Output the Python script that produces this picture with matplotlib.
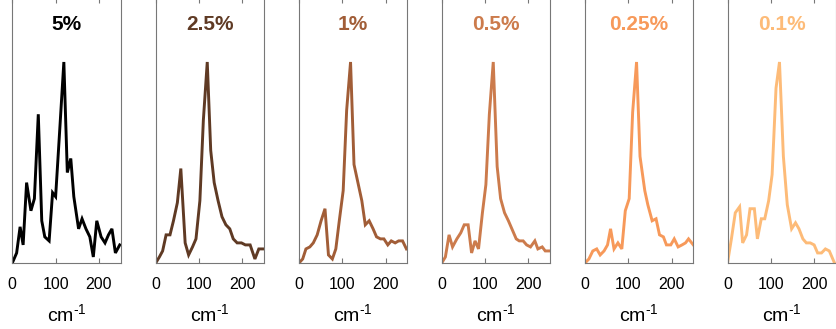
import numpy as np
import matplotlib
matplotlib.use("Agg")
import matplotlib.pyplot as plt

plt.rcParams['font.family'] = ['Liberation Sans', 'DejaVu Sans']
plt.rcParams['mathtext.fontset'] = 'custom'
plt.rcParams['mathtext.rm'] = 'Liberation Sans'
plt.rcParams['mathtext.default'] = 'regular'

titles = ["5%", "2.5%", "1%", "0.5%", "0.25%", "0.1%"]
colors = ["#000000", "#5f3a24", "#a15d37", "#cc7b4c", "#f7995a", "#fdbb78"]

# wavenumber (cm^-1) and normalised intensity, one pair per panel
x5 = [0, 10, 18, 25, 33, 43, 51, 60, 68, 75, 85, 93, 100, 110, 119, 127, 135, 142,
      153, 161, 170, 179, 187, 195, 205, 214, 222, 230, 238, 248]
y5 = [0, 0.05, 0.18, 0.09, 0.40, 0.26, 0.32, 0.74, 0.21, 0.13, 0.11, 0.35, 0.33, 0.68,
      1.0, 0.45, 0.52, 0.33, 0.17, 0.22, 0.17, 0.13, 0.03, 0.21, 0.13, 0.10, 0.14, 0.17,
      0.05, 0.09]

x25 = [0, 8.5, 16, 24, 33, 41, 50, 58, 68, 76, 85, 93, 102, 110, 119, 127, 135, 144,
       153, 162, 171, 179, 188, 198, 207, 218, 229, 238, 250]
y25 = [0, 0.03, 0.06, 0.14, 0.14, 0.21, 0.30, 0.47, 0.10, 0.04, 0.08, 0.12, 0.31, 0.71,
       1.0, 0.56, 0.40, 0.31, 0.23, 0.19, 0.17, 0.12, 0.10, 0.10, 0.09, 0.09, 0.02, 0.07,
       0.07]

x1 = [0, 8.5, 16, 25, 33, 42, 51, 60, 68, 77, 85, 93, 102, 110, 119, 127, 136, 145,
      153, 162, 171, 179, 188, 196, 205, 213, 222, 230, 239, 248]
y1 = [0, 0.02, 0.07, 0.08, 0.10, 0.14, 0.21, 0.27, 0.04, 0.02, 0.07, 0.21, 0.36, 0.76,
      1.0, 0.49, 0.40, 0.31, 0.19, 0.21, 0.17, 0.13, 0.12, 0.12, 0.09, 0.11, 0.10, 0.11,
      0.11, 0.07]

x05 = [0, 8.5, 17, 25, 35, 44, 52, 61, 69, 77, 85, 94, 102, 110, 119, 128, 136, 145,
       154, 162, 172, 179, 188, 196, 205, 215, 222, 232, 239, 250]
y05 = [0, 0.03, 0.14, 0.08, 0.12, 0.15, 0.19, 0.19, 0.05, 0.11, 0.07, 0.25, 0.39, 0.74,
       1.0, 0.48, 0.32, 0.25, 0.21, 0.17, 0.12, 0.11, 0.11, 0.09, 0.08, 0.11, 0.07, 0.08,
       0.06, 0.06]

x025 = [0, 9, 18, 27, 35, 44, 52, 59, 67, 76, 85, 93, 102, 110, 119, 127, 138, 145,
        155, 164, 172, 181, 188, 198, 206, 215, 224, 232, 239, 250]
y025 = [0, 0.02, 0.06, 0.07, 0.04, 0.06, 0.09, 0.17, 0.07, 0.10, 0.07, 0.26, 0.32, 0.75,
        1.0, 0.53, 0.36, 0.29, 0.21, 0.22, 0.14, 0.13, 0.09, 0.09, 0.12, 0.08, 0.09, 0.10,
        0.12, 0.09]

x01 = [0, 9, 18, 28, 35, 44, 52, 62, 69, 78, 86, 95, 103, 112, 120, 129, 138, 148,
       157, 165, 174, 182, 191, 200, 208, 217, 226, 235, 247]
y01 = [0, 0.12, 0.25, 0.28, 0.10, 0.14, 0.27, 0.27, 0.12, 0.22, 0.22, 0.31, 0.44, 0.87,
       1.0, 0.53, 0.29, 0.17, 0.20, 0.17, 0.12, 0.10, 0.10, 0.09, 0.05, 0.05, 0.07, 0.06,
       0.0]

xs = [x5, x25, x1, x05, x025, x01]
ys = [y5, y25, y1, y05, y025, y01]

W, H = 836, 329
fig = plt.figure(figsize=(W / 100, H / 100), dpi=100)

lefts = [12.3, 155.7, 299, 441.7, 585, 727.5]
pw = 108.3
bottom_px = 263
top_px = -1.5
ytop = (bottom_px - top_px) / 201.0

for i in range(6):
    ax = fig.add_axes([lefts[i] / W, (H - bottom_px) / H, pw / W, (bottom_px - top_px) / H])
    ax.plot(xs[i], ys[i], color=colors[i], lw=2.1, solid_joinstyle='miter')
    ax.set_xlim(0, 250)
    ax.set_ylim(0, ytop)
    ax.set_yticks([])
    ax.set_xticks([0, 100, 200])
    ax.tick_params(axis='x', direction='in', length=3.5, width=0.8, color='#777777',
                   top=True, labelsize=11.5, pad=10)
    for s in ax.spines.values():
        s.set_color('#777777')
        s.set_linewidth(0.8)
    ax.set_xlabel("cm$^{\\text{-1}}$", fontsize=14, labelpad=8)
    ax.text(125, 1.185, titles[i], color=colors[i], fontsize=15, fontweight='bold',
            ha='center', va='center')

fig.savefig("out.png", dpi=100)
